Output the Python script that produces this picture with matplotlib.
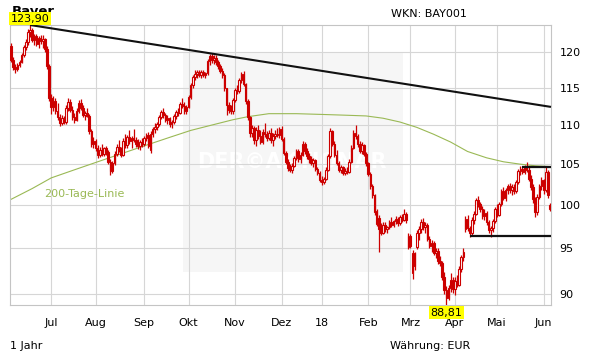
import numpy as np
import pandas as pd
import matplotlib
matplotlib.use("Agg")
import matplotlib.pyplot as plt

plt.rcParams.update({"font.family": "DejaVu Sans", "font.size": 8})

# one year of Xetra trading days
START, END = "2017-06-06", "2018-06-06"
HOLIDAYS = ["2017-12-25", "2017-12-26", "2018-01-01",
            "2018-03-30", "2018-04-02", "2018-05-01"]
MONTH_LABELS = {1: "18", 2: "Feb", 3: "Mrz", 4: "Apr", 5: "Mai", 6: "Jun",
                7: "Jul", 8: "Aug", 9: "Sep", 10: "Okt", 11: "Nov", 12: "Dez"}

# daily candles (EUR), 10 per line
opens = [
    120.8, 118.9, 117.8, 117.6, 118.1, 118.6, 119.6, 120.7, 121.4, 122.9,
    123.2, 121.7, 122.3, 121.2, 122.0, 121.5, 121.9, 120.4, 118.0, 113.6,
    112.4, 113.2, 111.8, 111.0, 110.3, 110.9, 110.4, 112.3, 113.1, 112.0,
    111.0, 110.7, 111.9, 112.9, 112.3, 111.3, 111.6, 111.2, 109.2, 107.6,
    107.9, 107.0, 106.2, 106.8, 106.3, 107.0, 106.5, 105.3, 104.2, 105.1,
    106.3, 107.2, 106.8, 106.2, 107.9, 107.4, 108.4, 107.9, 108.3, 108.0,
    107.6, 107.3, 107.8, 107.5, 108.3, 108.7, 106.8, 108.9, 109.5, 109.8,
    110.1, 111.0, 111.7, 111.3, 110.7, 110.9, 110.1, 110.4, 111.2, 111.7,
    111.6, 112.8, 112.5, 111.9, 112.4, 113.8, 115.3, 116.5, 116.9, 117.2,
    116.8, 117.1, 116.8, 117.0, 118.7, 119.4, 118.8, 119.2, 118.5, 118.0,
    117.3, 116.8, 114.9, 112.6, 112.0, 111.8, 113.3, 114.7, 114.5, 116.0,
    116.9, 115.5, 113.2, 111.0, 109.0, 109.6, 108.0, 109.3, 108.6, 107.8,
    109.1, 108.8, 108.3, 109.0, 108.0, 108.6, 108.9, 108.7, 109.5, 108.2,
    106.4, 105.3, 104.5, 104.3, 104.8, 105.8, 106.6, 105.6, 106.2, 107.5,
    106.6, 106.0, 105.6, 105.2, 105.5, 104.4, 103.9, 103.1, 102.8, 103.2,
    104.3, 106.0, 109.2, 107.6, 106.2, 105.2, 104.3, 104.6, 103.9, 104.2,
    104.0, 105.3, 107.1, 109.0, 108.6, 107.5, 106.7, 107.4, 106.3, 105.1,
    103.8, 102.3, 101.2, 97.8, 98.5, 97.2, 96.8, 97.7, 97.2, 97.4,
    98.0, 97.7, 98.1, 98.4, 97.9, 98.6, 98.3, 99.0, 95.1, 96.4,
    92.2, 94.5, 95.1, 96.8, 97.2, 98.0, 97.4, 97.7, 96.1, 95.3,
    95.6, 94.5, 94.7, 93.6, 93.4, 91.8, 90.4, 89.6, 90.6, 91.5,
    90.5, 91.4, 91.0, 92.7, 94.0, 97.2, 98.4, 97.3, 96.7, 98.3,
    99.0, 100.6, 100.1, 99.5, 98.7, 99.1, 98.0, 97.1, 97.3, 98.1,
    99.5, 98.9, 100.1, 101.7, 100.9, 101.8, 102.3, 101.8, 102.2, 101.7,
    102.8, 104.1, 104.4, 104.0, 104.6, 104.3, 103.2, 102.2, 100.7, 99.2,
    101.0, 102.3, 103.0, 101.8, 104.0, 100.0,
]
highs = [
    121.3, 119.3, 118.3, 118.4, 118.9, 119.9, 121.0, 121.8, 123.3, 123.9,
    123.5, 122.6, 122.6, 122.3, 122.5, 122.4, 122.0, 120.8, 118.3, 114.1,
    113.9, 113.6, 112.9, 111.4, 111.3, 111.2, 112.7, 113.6, 113.5, 112.5,
    111.6, 112.2, 113.3, 113.5, 112.6, 111.9, 112.3, 111.4, 109.5, 108.5,
    108.2, 107.4, 107.2, 107.6, 107.2, 107.3, 106.8, 105.6, 105.4, 106.6,
    107.5, 108.0, 107.2, 108.3, 108.8, 108.7, 109.4, 108.6, 109.5, 108.4,
    108.2, 108.0, 108.3, 108.6, 109.0, 109.1, 109.2, 109.8, 110.3, 110.4,
    111.3, 112.0, 112.2, 111.6, 111.3, 111.1, 110.6, 111.5, 112.0, 112.3,
    113.1, 113.6, 113.0, 112.7, 114.0, 115.6, 116.8, 117.5, 117.4, 117.5,
    117.4, 117.5, 117.2, 119.0, 119.7, 119.8, 119.5, 119.6, 118.9, 118.3,
    117.7, 117.0, 115.0, 113.1, 112.6, 113.6, 115.0, 115.3, 116.4, 117.2,
    117.3, 115.7, 113.4, 111.2, 110.0, 109.9, 109.7, 110.0, 109.3, 109.5,
    110.3, 109.2, 109.4, 109.6, 109.0, 109.4, 109.6, 109.8, 109.9, 108.4,
    106.7, 105.6, 105.0, 105.1, 106.0, 106.9, 106.9, 106.5, 107.9, 107.8,
    107.1, 106.4, 106.0, 105.8, 105.7, 104.7, 104.1, 103.5, 103.4, 104.6,
    106.3, 109.6, 109.4, 107.9, 106.8, 105.4, 104.9, 104.8, 104.5, 104.6,
    105.6, 107.4, 109.3, 110.0, 108.9, 107.9, 107.8, 107.6, 106.5, 105.3,
    104.0, 102.5, 101.3, 99.6, 98.8, 97.9, 98.0, 98.0, 97.6, 98.3,
    98.6, 98.3, 98.7, 98.6, 98.9, 99.0, 99.5, 99.2, 96.8, 96.6,
    94.8, 94.6, 97.1, 97.5, 98.4, 98.5, 98.0, 97.9, 96.4, 96.0,
    95.8, 95.0, 95.0, 94.1, 93.6, 92.4, 90.8, 91.0, 92.3, 91.8,
    91.8, 92.0, 93.0, 94.3, 95.0, 98.7, 98.8, 97.6, 98.6, 99.3,
    100.9, 101.1, 100.4, 99.9, 99.5, 99.3, 98.3, 97.6, 98.4, 99.8,
    100.1, 100.4, 102.0, 102.2, 102.1, 102.6, 102.7, 102.5, 102.6, 103.0,
    104.4, 104.8, 104.8, 104.9, 105.3, 104.6, 103.6, 102.5, 101.0, 101.3,
    102.6, 103.4, 103.2, 104.6, 104.3, 100.3,
]
lows = [
    118.6, 117.5, 117.0, 117.3, 117.8, 118.4, 119.3, 120.2, 121.0, 122.2,
    121.4, 121.0, 120.9, 120.6, 121.1, 120.6, 120.0, 117.6, 113.2, 111.5,
    111.8, 111.4, 110.6, 109.9, 110.0, 110.1, 110.2, 111.8, 111.7, 110.6,
    110.3, 110.5, 111.6, 112.0, 111.0, 110.6, 111.0, 108.8, 107.2, 107.0,
    106.6, 105.8, 105.9, 106.0, 106.0, 106.2, 105.0, 103.7, 103.9, 104.9,
    106.0, 106.5, 105.9, 106.0, 107.1, 107.0, 107.6, 107.0, 107.8, 107.2,
    106.9, 106.8, 107.2, 107.3, 107.9, 107.0, 106.4, 108.5, 109.0, 109.3,
    109.9, 110.8, 110.9, 110.4, 110.2, 109.8, 109.6, 110.2, 110.8, 111.2,
    111.4, 112.2, 111.5, 111.5, 112.2, 113.5, 115.0, 116.0, 116.3, 116.5,
    116.4, 116.5, 116.3, 116.8, 118.2, 118.4, 118.3, 118.1, 117.6, 117.0,
    116.4, 114.5, 111.3, 111.6, 111.4, 111.5, 113.0, 114.1, 114.3, 115.6,
    115.2, 112.8, 110.7, 108.4, 108.5, 107.6, 107.3, 108.2, 107.5, 107.5,
    108.4, 107.9, 108.0, 107.7, 107.3, 108.2, 108.4, 108.3, 107.9, 106.1,
    105.0, 104.2, 104.0, 103.9, 104.6, 105.5, 105.3, 105.2, 106.0, 106.3,
    105.7, 105.2, 104.9, 104.6, 104.2, 103.6, 102.8, 102.4, 102.6, 103.0,
    104.1, 105.8, 107.3, 105.9, 104.9, 104.0, 103.9, 103.7, 103.6, 103.8,
    103.9, 105.1, 106.9, 108.2, 107.2, 106.4, 106.3, 106.0, 104.8, 103.5,
    102.0, 100.9, 98.9, 97.5, 94.6, 96.5, 96.6, 96.9, 96.7, 97.2,
    97.4, 97.4, 97.8, 97.6, 97.7, 98.0, 98.1, 97.9, 94.9, 95.0,
    91.6, 92.6, 94.9, 96.0, 96.8, 97.1, 96.7, 95.8, 95.0, 94.6,
    94.2, 93.9, 93.3, 93.0, 91.5, 90.0, 88.81, 89.3, 90.2, 90.1,
    89.9, 90.7, 90.8, 92.4, 93.6, 96.9, 97.0, 96.3, 96.5, 97.8,
    98.8, 99.8, 99.2, 98.4, 98.2, 97.7, 96.8, 96.3, 96.9, 97.9,
    98.6, 98.7, 99.9, 100.6, 100.5, 101.3, 101.5, 101.2, 101.4, 101.5,
    102.6, 103.6, 103.8, 103.8, 104.0, 102.9, 101.8, 100.3, 98.6, 98.8,
    100.8, 101.8, 101.4, 101.6, 100.9, 99.3,
]
closes = [
    118.9, 117.8, 117.6, 118.1, 118.6, 119.6, 120.7, 121.4, 122.9, 123.2,
    121.7, 122.3, 121.2, 122.0, 121.5, 121.9, 120.4, 118.0, 113.6, 112.4,
    113.2, 111.8, 111.0, 110.3, 110.9, 110.4, 112.3, 113.1, 112.0, 111.0,
    110.7, 111.9, 112.9, 112.3, 111.3, 111.6, 111.2, 109.2, 107.6, 107.9,
    107.0, 106.2, 106.8, 106.3, 107.0, 106.5, 105.3, 104.2, 105.1, 106.3,
    107.2, 106.8, 106.2, 107.9, 107.4, 108.4, 107.9, 108.3, 108.0, 107.6,
    107.3, 107.8, 107.5, 108.3, 108.7, 107.3, 108.9, 109.5, 109.8, 110.1,
    111.0, 111.7, 111.3, 110.7, 110.9, 110.1, 110.4, 111.2, 111.7, 111.6,
    112.8, 112.5, 111.9, 112.4, 113.8, 115.3, 116.5, 116.9, 117.2, 116.8,
    117.1, 116.8, 117.0, 118.7, 119.4, 118.8, 119.2, 118.5, 118.0, 117.3,
    116.8, 114.9, 112.6, 112.0, 111.8, 113.3, 114.7, 114.5, 116.0, 116.9,
    115.5, 113.2, 111.0, 109.0, 109.6, 108.0, 109.3, 108.6, 107.8, 109.1,
    108.8, 108.3, 109.0, 108.0, 108.6, 108.9, 108.7, 109.5, 108.2, 106.4,
    105.3, 104.5, 104.3, 104.8, 105.8, 106.6, 105.6, 106.2, 107.5, 106.6,
    106.0, 105.6, 105.2, 105.5, 104.4, 103.9, 103.1, 102.8, 103.2, 104.3,
    106.0, 109.2, 107.6, 106.2, 105.2, 104.3, 104.6, 103.9, 104.2, 104.0,
    105.3, 107.1, 109.0, 108.6, 107.5, 106.7, 107.4, 106.3, 105.1, 103.8,
    102.3, 101.2, 99.2, 99.3, 97.2, 96.8, 97.7, 97.2, 97.4, 98.0,
    97.7, 98.1, 98.4, 97.9, 98.6, 98.3, 99.0, 98.2, 96.4, 95.3,
    94.5, 93.0, 96.8, 97.2, 98.0, 97.4, 97.7, 96.1, 95.3, 95.6,
    94.5, 94.7, 93.6, 93.4, 91.8, 90.4, 89.6, 90.6, 91.5, 90.5,
    91.4, 91.0, 92.7, 94.0, 94.6, 98.4, 97.3, 96.7, 98.3, 99.0,
    100.6, 100.1, 99.5, 98.7, 99.1, 98.0, 97.1, 97.3, 98.1, 99.5,
    98.9, 100.1, 101.7, 100.9, 101.8, 102.3, 101.8, 102.2, 101.7, 102.8,
    104.1, 104.4, 104.0, 104.6, 104.3, 103.2, 102.2, 100.7, 99.2, 101.0,
    102.3, 103.0, 101.8, 104.0, 101.2, 99.6,
]

# 200-Tage-Linie, read at a few trading days
ma_days = [0, 10, 19, 30, 41, 52, 64, 75, 85, 95, 105, 112, 122, 135, 147,
           158, 168, 176, 184, 192, 200, 208, 216, 225, 233, 241, 248, 255]
ma_vals = [100.7, 102.0, 103.3, 104.3, 105.3, 106.3, 107.4, 108.4, 109.3,
           110.0, 110.7, 111.1, 111.5, 111.5, 111.4, 111.3, 111.2, 110.9,
           110.4, 109.7, 108.8, 107.8, 106.6, 105.8, 105.3, 105.0, 104.8, 104.7]

# drawn-in chart lines
trend_end_price = 112.4          # downtrend line at right edge
range_low, range_low_from = 96.35, 217
range_high, range_high_from = 104.65, 242

RED = "#cc0000"
GREEN = "#9ab955"
GRID = "#d6d6d6"

dates = pd.bdate_range(START, END, freq="C", holidays=HOLIDAYS)
o, h, l, c = (np.asarray(v) for v in (opens, highs, lows, closes))
x = np.arange(len(c))
n = len(c)

W, H = 611, 364
fig = plt.figure(figsize=(W / 100, H / 100), dpi=100)
ax = fig.add_axes([10 / W, (H - 305) / H, 541 / W, 280 / H])
ax.set_yscale("log")
ax.set_xlim(-0.5, n - 0.5)
ax.set_ylim(l.min(), h.max())

# watermark
ax.add_patch(plt.Rectangle((0.32, 0.118), 0.406, 0.786, transform=ax.transAxes,
                           facecolor="#f6f6f6", edgecolor="none", zorder=0.2))
ax.text(0.521, 0.512, "DER©AKTIONÄR", transform=ax.transAxes, ha="center",
        va="center", fontsize=15, fontweight="bold", color="white", zorder=0.3)

# grid
months = np.flatnonzero(dates.month[1:] != dates.month[:-1]) + 1
ax.set_xticks(months)
ax.set_xticklabels([MONTH_LABELS[dates[i].month] for i in months])
yt = [90, 95, 100, 105, 110, 115, 120]
ax.set_yticks(yt)
ax.set_yticklabels([str(v) for v in yt])
ax.yaxis.set_minor_locator(matplotlib.ticker.NullLocator())
ax.yaxis.tick_right()
ax.tick_params(length=0, labelsize=8, colors="black")
ax.tick_params(axis="x", pad=9)
ax.tick_params(axis="y", pad=6)
ax.grid(True, color=GRID, linewidth=0.8)
ax.set_axisbelow(True)
for s in ax.spines.values():
    s.set_color("#c4c4c4")
    s.set_linewidth(0.8)

# 200-day line
ax.plot(ma_days, ma_vals, color=GREEN, linewidth=0.8, zorder=2)
ax.text(15.5, 101.35, "200-Tage-Linie", color=GREEN, fontsize=8, va="center")

# candles
up = c >= o
lo = np.minimum(o, c)
ht = np.maximum(np.abs(c - o), 0.08)
ax.vlines(x, l, h, color=RED, linewidth=0.9, zorder=3)
ax.bar(x[up], ht[up], bottom=lo[up], width=0.75, facecolor="white",
       edgecolor=RED, linewidth=0.8, zorder=4)
ax.bar(x[~up], ht[~up], bottom=lo[~up], width=0.75, facecolor=RED,
       edgecolor=RED, linewidth=0.8, zorder=4)

# trend and range lines
ipk = int(np.argmax(h))
ax.plot([ipk, n - 0.5], [h[ipk], trend_end_price], color="#111111", lw=1.5,
        zorder=5, clip_on=False, solid_capstyle="butt")
ax.plot([range_low_from, n - 0.7], [range_low, range_low], color="#111111",
        lw=1.6, zorder=5, solid_capstyle="butt")
ax.plot([range_high_from, n - 0.7], [range_high, range_high], color="#111111",
        lw=1.6, zorder=5, solid_capstyle="butt")

# high / low markers
ilo = int(np.argmin(l))
box = dict(boxstyle="square,pad=0.12", facecolor="#ffff00", edgecolor="none")
ax.annotate(f"{h[ipk]:.2f}".replace(".", ","), (ipk, h[ipk]), xytext=(0, 1),
            textcoords="offset points", ha="center", va="bottom", fontsize=8,
            bbox=box, annotation_clip=False, zorder=10)
ax.annotate(f"{l[ilo]:.2f}".replace(".", ","), (ilo, l[ilo]), xytext=(0, -2),
            textcoords="offset points", ha="center", va="top", fontsize=8,
            bbox=box, annotation_clip=False, zorder=10)

# header / footer
ax.text(12 / W, 1 - 5 / H, "Bayer", transform=fig.transFigure, va="top",
        fontsize=9.5, fontweight="bold", zorder=1, clip_on=False)
fig.text(391 / W, 1 - 14 / H, "WKN: BAY001", va="center", fontsize=8)
fig.text(10 / W, 1 - 346 / H, "1 Jahr", va="center", fontsize=8)
fig.text(390 / W, 1 - 346 / H, "Währung: EUR", va="center", fontsize=8)

fig.savefig("out.png", dpi=100)
